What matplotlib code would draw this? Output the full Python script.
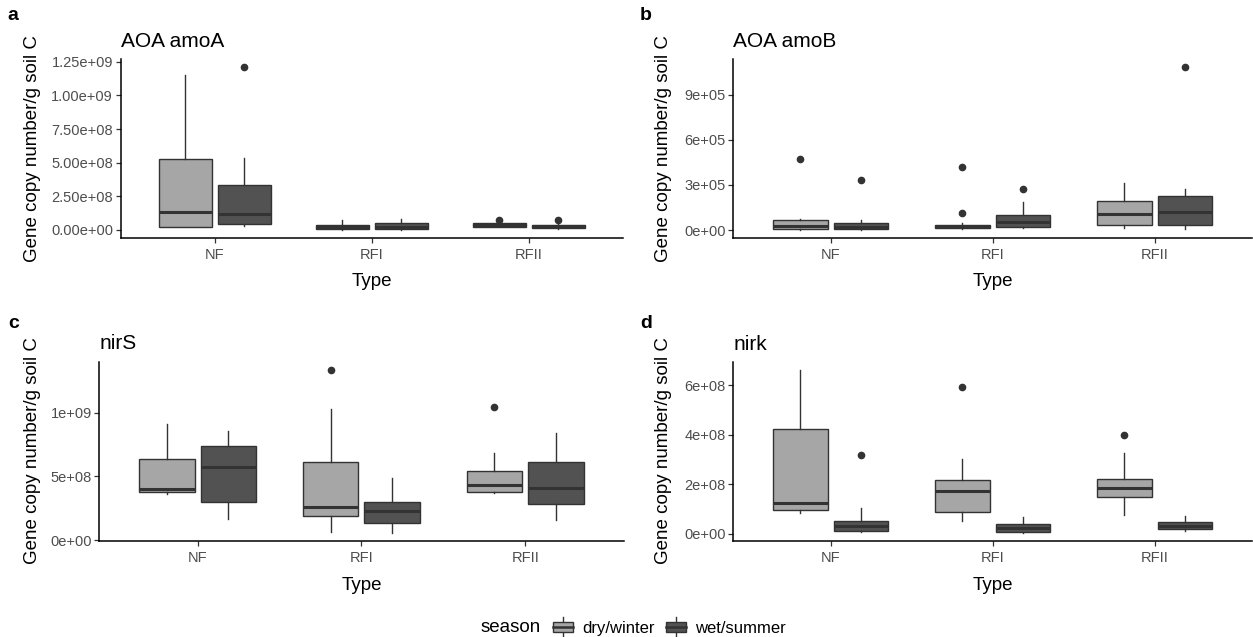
import matplotlib
matplotlib.use("Agg")
import matplotlib.pyplot as plt
from matplotlib.legend_handler import HandlerBase
from matplotlib.patches import Rectangle, Patch
from matplotlib.lines import Line2D

plt.rcParams['font.family'] = ['Liberation Sans', 'DejaVu Sans']

types = ["NF", "RFI", "RFII"]
seasons = ["dry/winter", "wet/summer"]

# box stats per type: (whislo, q1, med, q3, whishi)
# a: AOA amoA
amoa_dry = [(0.024e9, 0.024e9, 0.13e9, 0.524e9, 1.151e9),
            (0.003e9, 0.005e9, 0.02e9, 0.039e9, 0.074e9),
            (0.02e9, 0.025e9, 0.035e9, 0.049e9, 0.049e9)]
amoa_dry_out = [[], [], [0.074e9]]
amoa_wet = [(0.032e9, 0.044e9, 0.12e9, 0.332e9, 0.537e9),
            (0.003e9, 0.007e9, 0.022e9, 0.049e9, 0.081e9),
            (0.007e9, 0.015e9, 0.027e9, 0.039e9, 0.045e9)]
amoa_wet_out = [[1.208e9], [], [0.074e9]]

# b: AOA amoB
amob_dry = [(3e3, 6.6e3, 28e3, 64e3, 73e3),
            (5e3, 13e3, 22e3, 35e3, 46e3),
            (15e3, 33e3, 110e3, 192e3, 316e3)]
amob_dry_out = [[470e3], [421e3, 112e3], []]
amob_wet = [(3e3, 6.6e3, 22e3, 44e3, 66e3),
            (15e3, 22e3, 55e3, 99e3, 187e3),
            (7e3, 33e3, 117e3, 227e3, 271e3)]
amob_wet_out = [[335e3], [271e3], [1083e3]]

# c: nirS
nirs_dry = [(0.361e9, 0.376e9, 0.402e9, 0.639e9, 0.913e9),
            (0.066e9, 0.189e9, 0.263e9, 0.616e9, 1.029e9),
            (0.368e9, 0.379e9, 0.432e9, 0.542e9, 0.684e9)]
nirs_dry_out = [[], [1.336e9], [1.044e9]]
nirs_wet = [(0.166e9, 0.303e9, 0.576e9, 0.742e9, 0.86e9),
            (0.058e9, 0.134e9, 0.231e9, 0.302e9, 0.487e9),
            (0.158e9, 0.287e9, 0.413e9, 0.616e9, 0.837e9)]
nirs_wet_out = [[], [], []]

# d: nirk
nirk_dry = [(0.084e9, 0.095e9, 0.123e9, 0.423e9, 0.66e9),
            (0.05e9, 0.089e9, 0.171e9, 0.216e9, 0.3e9),
            (0.075e9, 0.148e9, 0.184e9, 0.222e9, 0.325e9)]
nirk_dry_out = [[], [0.591e9], [0.40e9]]
nirk_wet = [(0.005e9, 0.012e9, 0.032e9, 0.053e9, 0.103e9),
            (0.003e9, 0.008e9, 0.022e9, 0.038e9, 0.066e9),
            (0.012e9, 0.018e9, 0.03e9, 0.045e9, 0.072e9)]
nirk_wet_out = [[0.317e9], [], []]

ticks_a = [0, 0.25e9, 0.5e9, 0.75e9, 1.0e9, 1.25e9]
labels_a = ["0.00e+00", "2.50e+08", "5.00e+08", "7.50e+08", "1.00e+09", "1.25e+09"]
ticks_b = [0, 3e5, 6e5, 9e5]
labels_b = ["0e+00", "3e+05", "6e+05", "9e+05"]
ticks_c = [0, 5e8, 1e9]
labels_c = ["0e+00", "5e+08", "1e+09"]
ticks_d = [0, 2e8, 4e8, 6e8]
labels_d = ["0e+00", "2e+08", "4e+08", "6e+08"]

fills = ["#A6A6A6", "#525252"]
edge = "#333333"

W, H = 1253, 637
fig = plt.figure(figsize=(W / 100, H / 100), dpi=100)


def px_axes(left, right, top, bottom):
    return fig.add_axes([left / W, 1 - bottom / H, (right - left) / W, (bottom - top) / H])


def panel(ax, dry, dry_out, wet, wet_out, ticks, labels, title):
    allv = []
    for s, (st, outs) in enumerate([(dry, dry_out), (wet, wet_out)]):
        stats = []
        for i in range(3):
            lo, q1, med, q3, hi = st[i]
            stats.append(dict(whislo=lo, q1=q1, med=med, q3=q3, whishi=hi, fliers=outs[i]))
            allv += [lo, hi] + list(outs[i])
        off = -0.1875 if s == 0 else 0.1875
        ax.bxp(stats, positions=[i + 1 + off for i in range(3)], widths=0.3375,
               patch_artist=True, showcaps=False, manage_ticks=False,
               boxprops=dict(facecolor=fills[s], edgecolor=edge, linewidth=1.0),
               medianprops=dict(color=edge, linewidth=2.2, solid_capstyle='butt'),
               whiskerprops=dict(color=edge, linewidth=1.0),
               flierprops=dict(marker='o', markerfacecolor=edge, markeredgecolor=edge,
                               markersize=4.5))
    lo, hi = min(allv), max(allv)
    r = hi - lo
    ax.set_ylim(lo - 0.05 * r, hi + 0.05 * r)
    ax.set_xlim(0.4, 3.6)
    ax.set_xticks([1, 2, 3])
    ax.set_xticklabels(types)
    ax.set_yticks(ticks)
    ax.set_yticklabels(labels)
    for sp in ["top", "right"]:
        ax.spines[sp].set_visible(False)
    for sp in ["left", "bottom"]:
        ax.spines[sp].set_linewidth(1.1)
        ax.spines[sp].set_color("black")
    ax.tick_params(length=3.5, width=0.9, color=edge, labelcolor="#4D4D4D", labelsize=10.5, pad=2)
    ax.tick_params(axis="x", pad=4)
    ax.set_xlabel("Type", fontsize=13.5, labelpad=8)
    ax.set_title(title, loc="left", fontsize=15, pad=9)


ax_a = px_axes(120.7, 623, 59.3, 237.7)
ax_b = px_axes(733.3, 1252, 59.3, 237.7)
ax_c = px_axes(99.3, 623.5, 361.7, 541)
ax_d = px_axes(733.3, 1252, 362.3, 541)

panel(ax_a, amoa_dry, amoa_dry_out, amoa_wet, amoa_wet_out, ticks_a, labels_a, "AOA amoA")
panel(ax_b, amob_dry, amob_dry_out, amob_wet, amob_wet_out, ticks_b, labels_b, "AOA amoB")
panel(ax_c, nirs_dry, nirs_dry_out, nirs_wet, nirs_wet_out, ticks_c, labels_c, "nirS")
panel(ax_d, nirk_dry, nirk_dry_out, nirk_wet, nirk_wet_out, ticks_d, labels_d, "nirk")

ylab = "Gene copy number/g soil C"
for x, y in [(33, 148.5), (663, 148.5), (33, 451), (663, 451)]:
    fig.text(x / W, 1 - y / H, ylab, rotation=90, ha="center", va="center", fontsize=13.5)

for t, x, y in [("a", 13, 16), ("b", 646, 16), ("c", 14, 323), ("d", 646, 323)]:
    fig.text(x / W, 1 - y / H, t, ha="center", va="center", fontsize=14, fontweight="bold")


class BoxKey(HandlerBase):
    def create_artists(self, legend, orig_handle, xdescent, ydescent, width, height, fontsize, trans):
        fc = orig_handle.get_facecolor()
        x0, y0 = -xdescent, -ydescent
        cx = x0 + width / 2
        rect = Rectangle((x0, y0 + height * 0.2), width, height * 0.6, facecolor=fc,
                         edgecolor=edge, linewidth=1.0, transform=trans)
        med = Line2D([x0, x0 + width], [y0 + height / 2] * 2, color=edge, lw=1.8, transform=trans)
        w1 = Line2D([cx, cx], [y0 - height * 0.1, y0 + height * 0.2], color=edge, lw=1.0, transform=trans)
        w2 = Line2D([cx, cx], [y0 + height * 0.8, y0 + height * 1.1], color=edge, lw=1.0, transform=trans)
        return [w1, w2, rect, med]


handles = [Patch(facecolor=fills[0]), Patch(facecolor=fills[1])]
fig.text(541 / W, 1 - 627 / H, "season", ha="right", va="center", fontsize=13.5)
fig.legend(handles, seasons, loc="center left", bbox_to_anchor=(553 / W, 1 - 627 / H),
           ncol=2, frameon=False, fontsize=12, handler_map={Patch: BoxKey()},
           handlelength=1.2, handleheight=1.2, handletextpad=0.55, columnspacing=0.7,
           borderaxespad=0, borderpad=0)

fig.savefig("out.png", dpi=100)
